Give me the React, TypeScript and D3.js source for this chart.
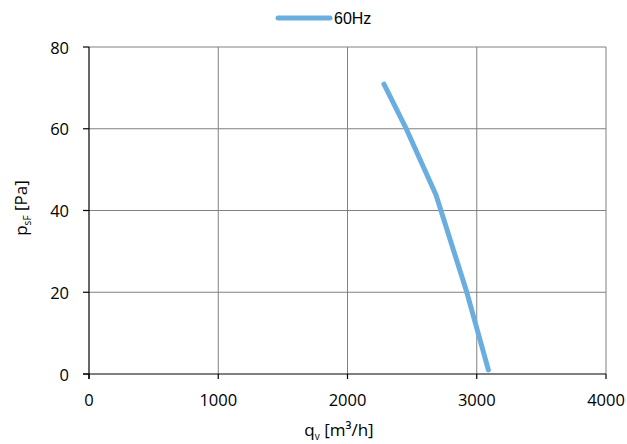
import React from "react";
import * as d3 from "d3";

const flow = [2282, 2456, 2685, 2922, 3090];
const pressure = [70.9, 59.9, 43.8, 20.1, 1.0];
const xTicks = [0, 1000, 2000, 3000, 4000];
const yTicks = [0, 20, 40, 60, 80];
const seriesName = "60Hz";

export default function App() {
  const W = 627, H = 444;
  const left = 89, right = 606, top = 47, bottom = 374;
  const x = d3.scaleLinear().domain([0, 4000]).range([left, right]);
  const y = d3.scaleLinear().domain([0, 80]).range([bottom, top]);
  const pts = flow.map((f, i) => [f, pressure[i]] as [number, number]);
  const line = d3.line<[number, number]>().x(d => x(d[0])).y(d => y(d[1]));
  const tickFont = "'Open Sans', 'DejaVu Sans', sans-serif";
  const narrow = "'Liberation Sans Narrow', 'Liberation Sans', Arial, sans-serif";
  return (
    <svg width={W} height={H} style={{ position: "absolute", left: 0, top: 0, background: "#fff" }}>
      {xTicks.filter(t => t > 0).map(t => (
        <line key={"gx" + t} x1={x(t)} x2={x(t)} y1={top} y2={bottom} stroke="#808080" strokeWidth={1} />
      ))}
      {yTicks.filter(t => t > 0).map(t => (
        <line key={"gy" + t} x1={left} x2={right} y1={y(t)} y2={y(t)} stroke="#808080" strokeWidth={1} />
      ))}
      <line x1={left} x2={left} y1={top} y2={bottom + 5} stroke="#000" strokeWidth={1.2} />
      <line x1={left - 6} x2={right} y1={bottom} y2={bottom} stroke="#000" strokeWidth={1.2} />
      {yTicks.map(t => (
        <g key={"ty" + t}>
          <line x1={left - 6} x2={left} y1={y(t)} y2={y(t)} stroke="#000" strokeWidth={1.2} />
          <text x={69} y={y(t)} textAnchor="end" dominantBaseline="central" fontSize={16.5} fontFamily={tickFont} fill="#000">{t}</text>
        </g>
      ))}
      {xTicks.map(t => (
        <g key={"tx" + t}>
          <line x1={x(t)} x2={x(t)} y1={bottom} y2={bottom + 5} stroke="#000" strokeWidth={1.2} />
          <text x={x(t)} y={399} textAnchor="middle" dominantBaseline="central" fontSize={16.5} fontFamily={tickFont} fill="#000">{t}</text>
        </g>
      ))}
      <path d={line(pts) || ""} fill="none" stroke="#6aaee0" strokeWidth={5} strokeLinecap="round" strokeLinejoin="round" />
      <line x1={278} x2={330} y1={18} y2={18} stroke="#6aaee0" strokeWidth={5} strokeLinecap="round" />
      <text x={334} y={18} dominantBaseline="central" fontSize={16} fontFamily={narrow} fill="#000">{seriesName}</text>
      <text x={339} y={436} textAnchor="middle" fontSize={17} fontFamily={tickFont} fill="#000">
        q<tspan fontSize={10} dy={4}>v</tspan><tspan dy={-4}> [m³/h]</tspan>
      </text>
      <text transform={`translate(27, 208) rotate(-90)`} textAnchor="middle" fontSize={17} fontFamily={tickFont} fill="#000">
        p<tspan fontSize={10} dy={4}>sF</tspan><tspan dy={-4}> [Pa]</tspan>
      </text>
    </svg>
  );
}
